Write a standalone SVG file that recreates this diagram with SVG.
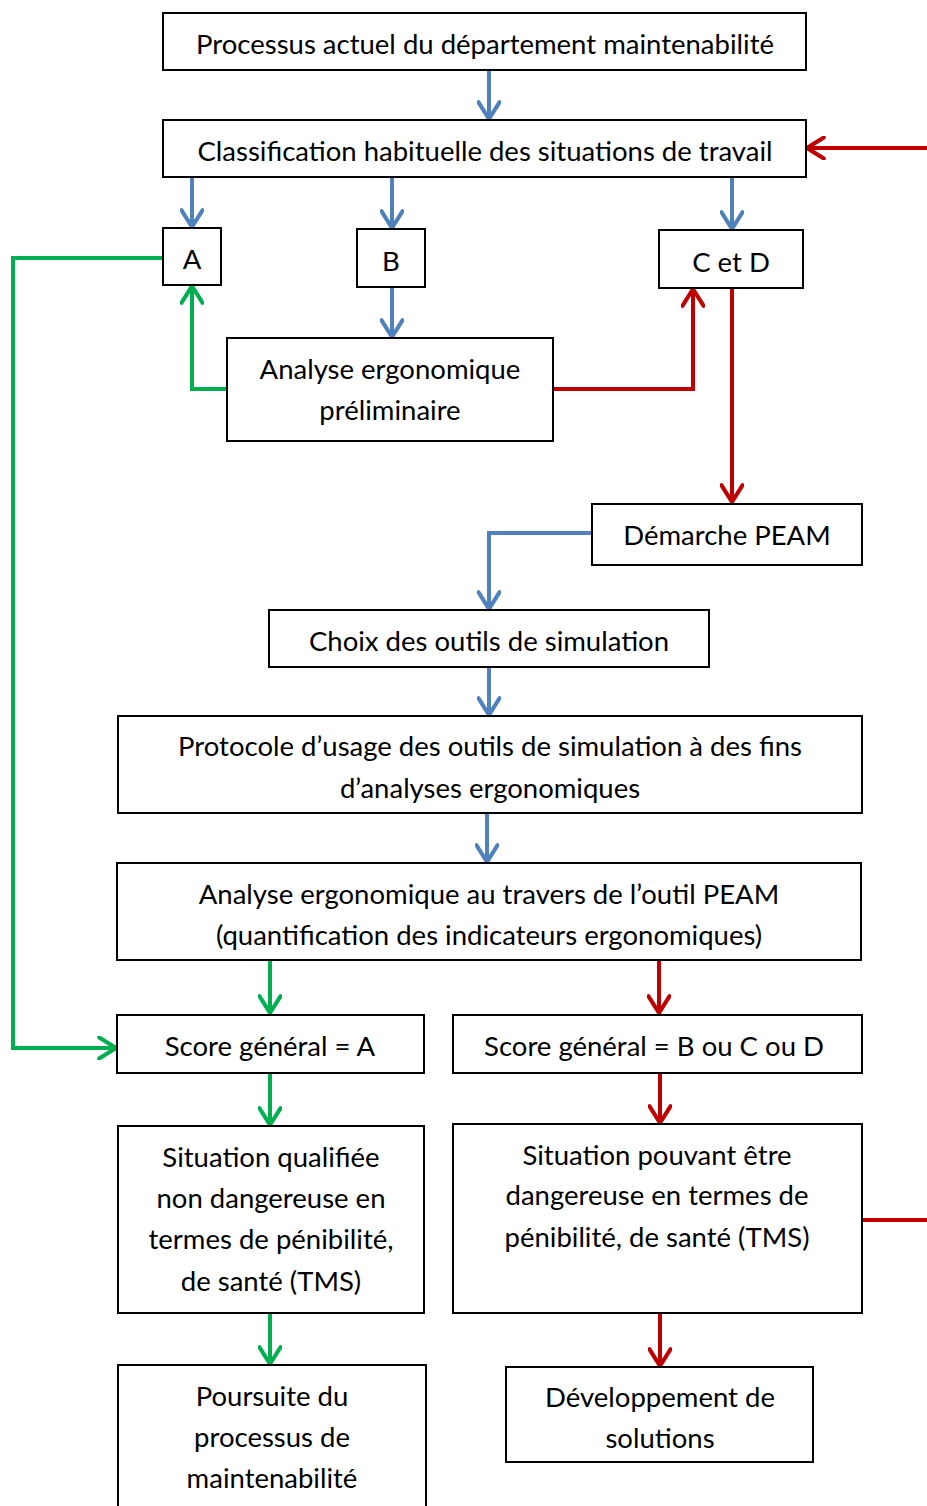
<svg xmlns="http://www.w3.org/2000/svg" width="927" height="1506" viewBox="0 0 927 1506">
<style>
.box{fill:#fff;stroke:#000;stroke-width:2}
text{font-family:Lato,"Open Sans",sans-serif;font-size:27.5px;fill:#000;text-anchor:middle;dominant-baseline:central}
.c{fill:none;stroke-width:4;stroke-linejoin:miter}
.b{stroke:#4F81BD}
.g{stroke:#00B050}
.r{stroke:#C00000}
</style>
<defs>
<marker id="hb" viewBox="0 0 10 10" refX="9" refY="5" markerWidth="6" markerHeight="6" orient="auto" markerUnits="strokeWidth"><polyline points="2,0.6 9,5 2,9.4" fill="none" stroke="#4F81BD" stroke-width="1.7" stroke-linecap="round" stroke-linejoin="round"/></marker>
<marker id="hg" viewBox="0 0 10 10" refX="9" refY="5" markerWidth="6" markerHeight="6" orient="auto" markerUnits="strokeWidth"><polyline points="2,0.6 9,5 2,9.4" fill="none" stroke="#00B050" stroke-width="1.7" stroke-linecap="round" stroke-linejoin="round"/></marker>
<marker id="hr" viewBox="0 0 10 10" refX="9" refY="5" markerWidth="6" markerHeight="6" orient="auto" markerUnits="strokeWidth"><polyline points="2,0.6 9,5 2,9.4" fill="none" stroke="#C00000" stroke-width="1.7" stroke-linecap="round" stroke-linejoin="round"/></marker>
</defs>
<g id="connectors">
<path class="c b" d="M489,70 V119" marker-end="url(#hb)"/>
<path class="c b" d="M192,177 V227" marker-end="url(#hb)"/>
<path class="c b" d="M392,177 V228" marker-end="url(#hb)"/>
<path class="c b" d="M732,177 V229" marker-end="url(#hb)"/>
<path class="c b" d="M392,287 V337" marker-end="url(#hb)"/>
<path class="c g" d="M227,389 H192 V286" marker-end="url(#hg)"/>
<path class="c r" d="M553,389 H693 V289" marker-end="url(#hr)"/>
<path class="c r" d="M927,148 H807" marker-end="url(#hr)"/>
<path class="c r" d="M732,288 V502" marker-end="url(#hr)"/>
<path class="c b" d="M592,533 H489 V609" marker-end="url(#hb)"/>
<path class="c b" d="M489,667 V715" marker-end="url(#hb)"/>
<path class="c b" d="M487,813 V862" marker-end="url(#hb)"/>
<path class="c g" d="M270,960 V1013" marker-end="url(#hg)"/>
<path class="c r" d="M659,960 V1013" marker-end="url(#hr)"/>
<path class="c g" d="M163,258 H13 V1048 H116" marker-end="url(#hg)"/>
<path class="c g" d="M270,1073 V1125" marker-end="url(#hg)"/>
<path class="c r" d="M660,1073 V1123" marker-end="url(#hr)"/>
<path class="c r" d="M862,1220 H927"/>
<path class="c g" d="M270,1313 V1364" marker-end="url(#hg)"/>
<path class="c r" d="M660,1313 V1366" marker-end="url(#hr)"/>
</g>
<g id="n1"><rect class="box" x="163" y="13" width="643" height="57"/><text x="485" y="43">Processus actuel du département maintenabilité</text></g>
<g id="n2"><rect class="box" x="163" y="120" width="643" height="57"/><text x="485" y="150">Classification habituelle des situations de travail</text></g>
<g id="nA"><rect class="box" x="163" y="228" width="58" height="57"/><text x="192" y="258">A</text></g>
<g id="nB"><rect class="box" x="357" y="229" width="68" height="58"/><text x="391" y="260">B</text></g>
<g id="nCD"><rect class="box" x="659" y="230" width="144" height="58"/><text x="731" y="261">C et D</text></g>
<g id="n3"><rect class="box" x="227" y="338" width="326" height="103"/><text x="390" y="368">Analyse ergonomique</text><text x="390" y="409">préliminaire</text></g>
<g id="n4"><rect class="box" x="592" y="504" width="270" height="61"/><text x="727" y="534">Démarche PEAM</text></g>
<g id="n5"><rect class="box" x="269" y="610" width="440" height="57"/><text x="489" y="640">Choix des outils de simulation</text></g>
<g id="n6"><rect class="box" x="118" y="716" width="744" height="97"/><text x="490" y="745">Protocole d’usage des outils de simulation à des fins</text><text x="490" y="787">d’analyses ergonomiques</text></g>
<g id="n7"><rect class="box" x="117" y="863" width="744" height="97"/><text x="489" y="893">Analyse ergonomique au travers de l’outil PEAM</text><text x="489" y="934">(quantification des indicateurs ergonomiques)</text></g>
<g id="n8"><rect class="box" x="117" y="1015" width="307" height="58"/><text x="270" y="1045">Score général = A</text></g>
<g id="n9"><rect class="box" x="453" y="1015" width="409" height="58"/><text x="654" y="1045">Score général = B ou C ou D</text></g>
<g id="n10"><rect class="box" x="118" y="1126" width="306" height="187"/><text x="271" y="1156">Situation qualifiée</text><text x="271" y="1197">non dangereuse en</text><text x="271" y="1238">termes de pénibilité,</text><text x="271" y="1280">de santé (TMS)</text></g>
<g id="n11"><rect class="box" x="453" y="1124" width="409" height="189"/><text x="657" y="1154">Situation pouvant être</text><text x="657" y="1194">dangereuse en termes de</text><text x="657" y="1236">pénibilité, de santé (TMS)</text></g>
<g id="n12"><rect class="box" x="118" y="1365" width="308" height="150"/><text x="272" y="1395">Poursuite du</text><text x="272" y="1436">processus de</text><text x="272" y="1477">maintenabilité</text></g>
<g id="n13"><rect class="box" x="506" y="1367" width="307" height="95"/><text x="660" y="1396">Développement de</text><text x="660" y="1437">solutions</text></g>
</svg>
